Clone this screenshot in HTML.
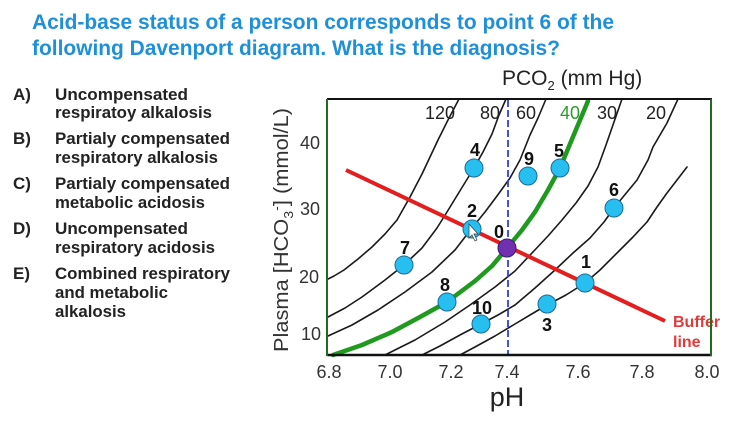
<!DOCTYPE html>
<html>
<head>
<meta charset="utf-8">
<style>
  html,body{margin:0;padding:0;background:#fff;}
  svg{display:block;}
  text{font-family:"Liberation Sans",Arial,sans-serif;}
</style>
</head>
<body>
<svg width="730" height="425" viewBox="0 0 730 425" xmlns="http://www.w3.org/2000/svg">
  <rect x="0" y="0" width="730" height="425" fill="#ffffff"/>

  <!-- Title -->
  <text x="32" y="29" font-size="21" font-weight="bold" fill="#1e90da" textLength="582" lengthAdjust="spacingAndGlyphs">Acid-base status of a person corresponds to point 6 of the</text>
  <text x="32" y="55" font-size="21" font-weight="bold" fill="#1e90da" textLength="528" lengthAdjust="spacingAndGlyphs">following Davenport diagram. What is the diagnosis?</text>

  <!-- Options -->
  <g font-size="17" font-weight="bold" fill="#222">
    <text x="13" y="100">A)</text>
    <text x="55" y="100" textLength="133" lengthAdjust="spacingAndGlyphs">Uncompensated</text>
    <text x="55" y="118" textLength="157" lengthAdjust="spacingAndGlyphs">respiratoy alkalosis</text>
    <text x="13" y="144">B)</text>
    <text x="55" y="144" textLength="175" lengthAdjust="spacingAndGlyphs">Partialy compensated</text>
    <text x="55" y="163" textLength="163" lengthAdjust="spacingAndGlyphs">respiratory alkalosis</text>
    <text x="13" y="189">C)</text>
    <text x="55" y="189" textLength="175" lengthAdjust="spacingAndGlyphs">Partialy compensated</text>
    <text x="55" y="208" textLength="150" lengthAdjust="spacingAndGlyphs">metabolic acidosis</text>
    <text x="13" y="234">D)</text>
    <text x="55" y="234" textLength="133" lengthAdjust="spacingAndGlyphs">Uncompensated</text>
    <text x="55" y="253" textLength="160" lengthAdjust="spacingAndGlyphs">respiratory acidosis</text>
    <text x="13" y="279">E)</text>
    <text x="55" y="279" textLength="175" lengthAdjust="spacingAndGlyphs">Combined respiratory</text>
    <text x="55" y="298" textLength="113" lengthAdjust="spacingAndGlyphs">and metabolic</text>
    <text x="55" y="317" textLength="71" lengthAdjust="spacingAndGlyphs">alkalosis</text>
  </g>

  <!-- PCO2 label -->
  <text x="502" y="85" font-size="21" fill="#222">PCO<tspan font-size="13" dy="5">2</tspan><tspan dy="-5"> (mm Hg)</tspan></text>

  <!-- Isopleth curves -->
  <g fill="none" stroke="#1a1a1a" stroke-width="1.6" stroke-linejoin="round" stroke-linecap="round">
    <polyline points="459,99 448,120 438,140 422,174 410,197 397,220 385,234 372,247 358,259 344,270 334,276 328,279"/>
    <polyline points="506,99 499,115 492,134 483,152 474,168 458,194 447,212 437,228 422,248 404,265 385,280 362,297 345,308 328,317"/>
    <polyline points="546,99 538,118 530,135 520,160 510,178 497,196 485,212 472,228 455,250 432,272 405,292 378,310 352,325 328,336"/>
    <polyline points="622,99 614,122 606,145 598,167 588,186 576,203 562,220 548,236 532,253 515,271 495,287 470,305 445,322 415,340 385,355"/>
    <polyline points="678,99 672,112 667,123 660,135 653,147 648,160 637,180 623,197 614,208 604,222 590,238 573,253 555,270 535,288 515,305 498,315 481,324 460,335 440,346 422,355"/>
    <polyline points="687,167 677,180 667,193 657,207 647,222 633,237 618,252 600,270 585,283 566,295 547,305 530,315 515,324 495,336 475,347 460,355"/>
  </g>
  <polyline fill="none" stroke="#1f9a1f" stroke-width="4.5" stroke-linejoin="round" stroke-linecap="round"
    points="588,101 575,132 560,168 548,190 535,212 522,230 508,247 492,266 475,281 447,302 420,317 392,332 362,345 333,355"/>

  <!-- curve labels -->
  <g font-size="18" fill="#222">
    <text x="425" y="119">120</text>
    <text x="480" y="119">80</text>
    <text x="516" y="119">60</text>
    <text x="560" y="119" fill="#2e9a2e">40</text>
    <text x="597" y="119">30</text>
    <text x="646" y="119">20</text>
  </g>

  <!-- Buffer line -->
  <line x1="346" y1="170" x2="665" y2="321" stroke="#e41e1e" stroke-width="4"/>
  <text x="673" y="327" font-size="16" font-weight="bold" fill="#e23a3a">Buffer</text>
  <text x="673" y="347" font-size="16" font-weight="bold" fill="#e23a3a">line</text>

  <!-- dashed vertical at pH 7.4 -->
  <line x1="508" y1="100" x2="508" y2="354" stroke="#2f3fe0" stroke-width="1.8" stroke-dasharray="7,3"/>

  <!-- Frame -->
  <line x1="327" y1="99" x2="712" y2="99" stroke="#111" stroke-width="2"/>
  <line x1="327" y1="355" x2="712" y2="355" stroke="#111" stroke-width="2.5"/>
  <line x1="327" y1="99" x2="327" y2="356" stroke="#1f6e1f" stroke-width="2"/>
  <line x1="711" y1="99" x2="711" y2="356" stroke="#1f6e1f" stroke-width="2"/>

  <!-- Points -->
  <g fill="#27bff0" stroke="#1c6a96" stroke-width="1">
    <circle cx="474" cy="168" r="9"/>
    <circle cx="472" cy="229" r="9"/>
    <circle cx="528" cy="176" r="9"/>
    <circle cx="560" cy="168" r="9"/>
    <circle cx="614" cy="208" r="9"/>
    <circle cx="404" cy="265" r="9"/>
    <circle cx="447" cy="302" r="9"/>
    <circle cx="481" cy="324" r="9"/>
    <circle cx="585" cy="283" r="9"/>
    <circle cx="547" cy="304" r="9"/>
  </g>
  <circle cx="507" cy="248" r="9" fill="#7030b0" stroke="#3a1a70" stroke-width="1"/>
  <polygon points="469,224 469,238 472,235 475,241 477,240 474,234 478,234" fill="#fff" stroke="#444" stroke-width="0.8"/>

  <!-- Point labels -->
  <g font-size="18" font-weight="bold" fill="#111" text-anchor="middle">
    <text x="475" y="156">4</text>
    <text x="472" y="217">2</text>
    <text x="499" y="238">0</text>
    <text x="529" y="165">9</text>
    <text x="559" y="157">5</text>
    <text x="614" y="196">6</text>
    <text x="405" y="254">7</text>
    <text x="445" y="291">8</text>
    <text x="482" y="314">10</text>
    <text x="586" y="268">1</text>
    <text x="547" y="331">3</text>
  </g>

  <!-- Y tick labels -->
  <g font-size="18" fill="#333" text-anchor="end">
    <text x="320" y="149">40</text>
    <text x="320" y="215">30</text>
    <text x="319" y="283">20</text>
    <text x="321" y="340">10</text>
  </g>

  <!-- X tick labels -->
  <g font-size="18" fill="#333" text-anchor="middle">
    <text x="329" y="378">6.8</text>
    <text x="390" y="378">7.0</text>
    <text x="451" y="378">7.2</text>
    <text x="507" y="378">7.4</text>
    <text x="578" y="378">7.6</text>
    <text x="642" y="378">7.8</text>
    <text x="707" y="378">8.0</text>
  </g>

  <!-- Axis titles -->
  <text x="507" y="406" font-size="27" fill="#222" text-anchor="middle">pH</text>
  <text transform="translate(288,352) rotate(-90)" font-size="20" fill="#333" textLength="244" lengthAdjust="spacingAndGlyphs">Plasma [HCO<tspan font-size="13" dy="5">3</tspan><tspan font-size="13" dy="-12">-</tspan><tspan dy="7">] (mmol/L)</tspan></text>
</svg>
</body>
</html>
